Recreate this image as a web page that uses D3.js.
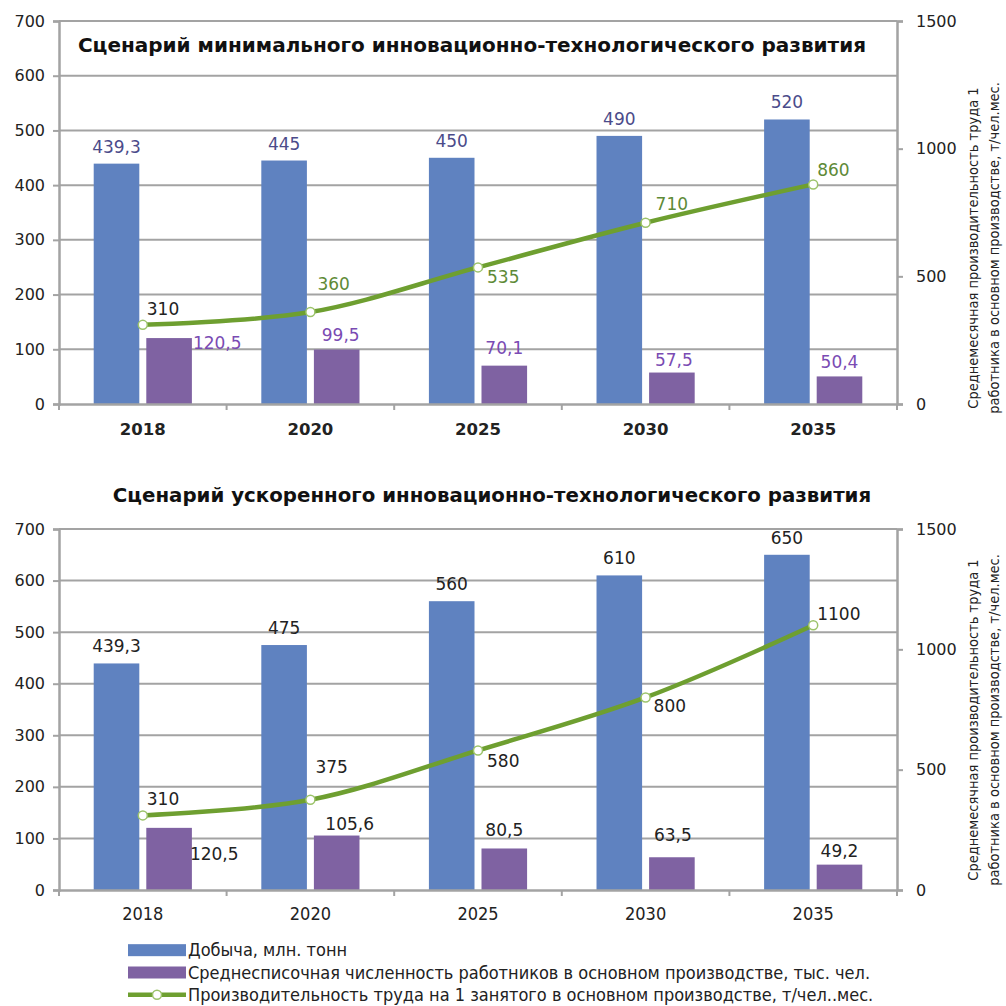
<!DOCTYPE html>
<html lang="ru">
<head>
<meta charset="utf-8">
<title>Сценарии развития</title>
<script src="https://cdnjs.cloudflare.com/ajax/libs/d3/7.8.5/d3.min.js"></script>
<style>
  body { margin: 0; background: #fff; }
  svg { display: block; }
  .tick-label { font: 16px "DejaVu Sans", sans-serif; fill: #222; }
  .val { font: 17px "DejaVu Sans", sans-serif; }
  .cond { font-family: "DejaVu Sans Condensed", "DejaVu Sans", sans-serif; fill: #222; }
</style>
</head>
<body>
<svg id="chart" width="1006" height="1006"></svg>
<script>
// --- data ---
var years = ["2018", "2020", "2025", "2030", "2035"];

var minOutput = [439.3, 445, 450, 490, 520];
var minWorkers = [120.5, 99.5, 70.1, 57.5, 50.4];
var minProductivity = [310, 360, 535, 710, 860];

var accOutput = [439.3, 475, 560, 610, 650];
var accWorkers = [120.5, 105.6, 80.5, 63.5, 49.2];
var accProductivity = [310, 375, 580, 800, 1100];

var leftTicks = [0, 100, 200, 300, 400, 500, 600, 700];
var rightTicks = [0, 500, 1000, 1500];

var legendNames = [
  "Добыча, млн. тонн",
  "Среднесписочная численность работников в основном производстве, тыс. чел.",
  "Производительность труда на 1 занятого в основном производстве, т/чел..мес."
];
var rightTitle = [
  "Среднемесячная производительность труда 1",
  "работника в основном производстве, т/чел.мес."
];

var blue = "#5f82c0", purple = "#7f62a2", green = "#6e9f30", grid = "#a3a3a3";

var svg = d3.select("#chart");
var fmt = function(v) { return String(v).replace(".", ","); };

function drawPanel(p) {
  var g = svg.append("g");

  var x = d3.scaleBand().domain(years).range([59, 897]);
  var x1 = d3.scaleBand().domain(["out", "wrk"]).range([0, x.bandwidth()])
      .paddingInner(0.133).paddingOuter(0.66);
  var y = d3.scaleLinear().domain([0, 700]).range([p.bottom, p.top]);
  var y2 = d3.scaleLinear().domain([0, 1500]).range([p.bottom, p.top]);

  // gridlines
  g.selectAll(".grid").data(leftTicks.slice(1)).enter().append("line")
    .attr("x1", 59).attr("x2", 897)
    .attr("y1", function(d) { return y(d); }).attr("y2", function(d) { return y(d); })
    .attr("stroke", grid).attr("stroke-width", 2);

  // left axis
  var la = g.append("g").attr("transform", "translate(59,0)")
    .call(d3.axisLeft(y).tickValues(leftTicks).tickSize(6).tickPadding(8));
  la.select(".domain").attr("stroke", grid).attr("stroke-width", 2.5);
  la.selectAll(".tick line").attr("stroke", grid).attr("stroke-width", 2);
  la.selectAll("text").attr("class", "tick-label").attr("font-size", null).attr("font-family", null).attr("fill", null);

  // right axis
  var ra = g.append("g").attr("transform", "translate(897,0)")
    .call(d3.axisRight(y2).tickValues(rightTicks).tickFormat(d3.format("d")).tickSize(6).tickPadding(13));
  ra.select(".domain").attr("stroke", grid).attr("stroke-width", 2.5);
  ra.selectAll(".tick line").attr("stroke", grid).attr("stroke-width", 2);
  ra.selectAll("text").attr("class", "tick-label").attr("font-size", null).attr("font-family", null).attr("fill", null);

  // bars
  var groups = g.selectAll(".yr").data(years).enter().append("g")
    .attr("transform", function(d) { return "translate(" + x(d) + ",0)"; });
  groups.append("rect")
    .attr("x", x1("out")).attr("width", x1.bandwidth())
    .attr("y", function(d, i) { return y(p.output[i]); })
    .attr("height", function(d, i) { return y(0) - y(p.output[i]); })
    .attr("fill", blue);
  groups.append("rect")
    .attr("x", x1("wrk")).attr("width", x1.bandwidth())
    .attr("y", function(d, i) { return y(p.workers[i]); })
    .attr("height", function(d, i) { return y(0) - y(p.workers[i]); })
    .attr("fill", purple);

  // x axis
  var xa = g.append("g").attr("transform", "translate(0," + p.bottom + ")")
    .call(d3.axisBottom(x).tickSize(0).tickFormat(""));
  xa.select(".domain").attr("stroke", grid).attr("stroke-width", 2.5);
  g.selectAll(".xt").data(years.concat(["end"])).enter().append("line")
    .attr("x1", function(d) { return d === "end" ? 897 : x(d); })
    .attr("x2", function(d) { return d === "end" ? 897 : x(d); })
    .attr("y1", p.bottom).attr("y2", p.bottom + 6)
    .attr("stroke", grid).attr("stroke-width", 2);
  g.selectAll(".xl").data(years).enter().append("text")
    .attr("class", p.xClass)
    .attr("x", function(d) { return x(d) + x.bandwidth() / 2; })
    .attr("y", p.bottom + p.xLabelDy)
    .attr("text-anchor", "middle")
    .text(function(d) { return d; });

  // line
  var cx = function(i) { return x(years[i]) + x.bandwidth() / 2; };
  var line = d3.line().curve(d3.curveCatmullRom.alpha(0.5))
    .x(function(d, i) { return cx(i); })
    .y(function(d) { return y2(d); });
  g.append("path").datum(p.productivity)
    .attr("d", line).attr("fill", "none")
    .attr("stroke", green).attr("stroke-width", 4.5);
  g.selectAll(".mk").data(p.productivity).enter().append("circle")
    .attr("cx", function(d, i) { return cx(i); })
    .attr("cy", function(d) { return y2(d); })
    .attr("r", 4.5).attr("fill", "#fff").attr("stroke", "#9cc36a").attr("stroke-width", 1.5);

  // data labels
  g.selectAll(".vo").data(p.output).enter().append("text")
    .attr("class", "val").attr("fill", p.outColor).attr("text-anchor", "middle")
    .attr("x", function(d, i) { return x(years[i]) + x1("out") + x1.bandwidth() / 2; })
    .attr("y", function(d) { return y(d) - 11; })
    .text(fmt);
  g.selectAll(".vw").data(p.workers).enter().append("text")
    .attr("class", "val").attr("fill", p.wrkColor)
    .attr("text-anchor", function(d, i) { return p.wrkPlace[i][2]; })
    .attr("x", function(d, i) { return x(years[i]) + x1("wrk") + (p.wrkPlace[i][2] === "start" ? x1.bandwidth() : x1.bandwidth() / 2) + p.wrkPlace[i][0]; })
    .attr("y", function(d, i) { return y(d) + p.wrkPlace[i][1]; })
    .text(fmt);
  g.selectAll(".vp").data(p.productivity).enter().append("text")
    .attr("class", "val")
    .attr("fill", function(d, i) { return p.prodColor[i]; })
    .attr("x", function(d, i) { return cx(i) + p.prodPlace[i][0]; })
    .attr("y", function(d, i) { return y2(d) + p.prodPlace[i][1]; })
    .text(fmt);

  // title
  svg.append("text")
    .attr("x", p.titleX).attr("y", p.titleY).attr("text-anchor", "middle")
    .attr("font-family", "DejaVu Sans, sans-serif").attr("font-weight", "bold")
    .attr("font-size", p.titleSize).attr("fill", "#111")
    .text(p.title);

  // right axis title
  var rt = svg.append("g").attr("transform", "translate(0," + p.rtCenter + ")");
  rightTitle.forEach(function(t, i) {
    rt.append("text").attr("class", "cond")
      .attr("transform", "translate(" + (978 + i * 21) + ",0) rotate(-90)")
      .attr("text-anchor", "middle").attr("font-size", 14.5)
      .text(t);
  });
}

drawPanel({
  top: 21, bottom: 404,
  output: minOutput, workers: minWorkers, productivity: minProductivity,
  outColor: "#4b4b8a", wrkColor: "#7a4bb3",
  prodColor: ["#222", "#5e8a36", "#5e8a36", "#5e8a36", "#5e8a36"],
  wrkPlace: [[1, 11, "start"], [4, -9, "middle"], [0, -12, "middle"], [2, -7, "middle"], [0, -8, "middle"]],
  prodPlace: [[4, -10], [7, -22], [9, 16], [10, -13], [4, -8]],
  xClass: "xl-top", xLabelDy: 31,
  title: "Сценарий минимального инновационно-технологического развития",
  titleX: 472, titleY: 52, titleSize: 20,
  rtCenter: 248
});

drawPanel({
  top: 529, bottom: 890,
  output: accOutput, workers: accWorkers, productivity: accProductivity,
  outColor: "#222", wrkColor: "#222",
  prodColor: ["#222", "#222", "#222", "#222", "#222"],
  wrkPlace: [[-2, 32, "start"], [13, -6, "middle"], [0, -12, "middle"], [1, -16, "middle"], [0, -8, "middle"]],
  prodPlace: [[4, -10], [5, -27], [9, 17], [8, 15], [4, -5]],
  xClass: "xl-bot", xLabelDy: 30,
  title: "Сценарий ускоренного инновационно-технологического развития",
  titleX: 492, titleY: 502, titleSize: 19.8,
  rtCenter: 720
});

svg.selectAll(".xl-top")
  .attr("font-family", "DejaVu Sans, sans-serif").attr("font-weight", "bold")
  .attr("font-size", 16.5).attr("fill", "#222");
svg.selectAll(".xl-bot").attr("class", "cond").attr("font-size", 18);

// legend
var legend = svg.append("g");
var rowY = d3.scaleBand().domain(legendNames).range([939, 1006]);
legendNames.forEach(function(name, i) {
  var cy = rowY(name) + rowY.bandwidth() / 2;
  if (i < 2) {
    legend.append("rect").attr("x", 128).attr("y", cy - 6).attr("width", 58).attr("height", 12)
      .attr("fill", i === 0 ? blue : purple);
  } else {
    legend.append("line").attr("x1", 128).attr("x2", 186).attr("y1", cy).attr("y2", cy)
      .attr("stroke", green).attr("stroke-width", 4.5);
    legend.append("circle").attr("cx", 157).attr("cy", cy).attr("r", 4.5)
      .attr("fill", "#fff").attr("stroke", "#9cc36a").attr("stroke-width", 1.5);
  }
  legend.append("text").attr("class", "cond").attr("x", 188).attr("y", cy + 6)
    .attr("font-size", 18).text(name);
});
</script>
</body>
</html>
